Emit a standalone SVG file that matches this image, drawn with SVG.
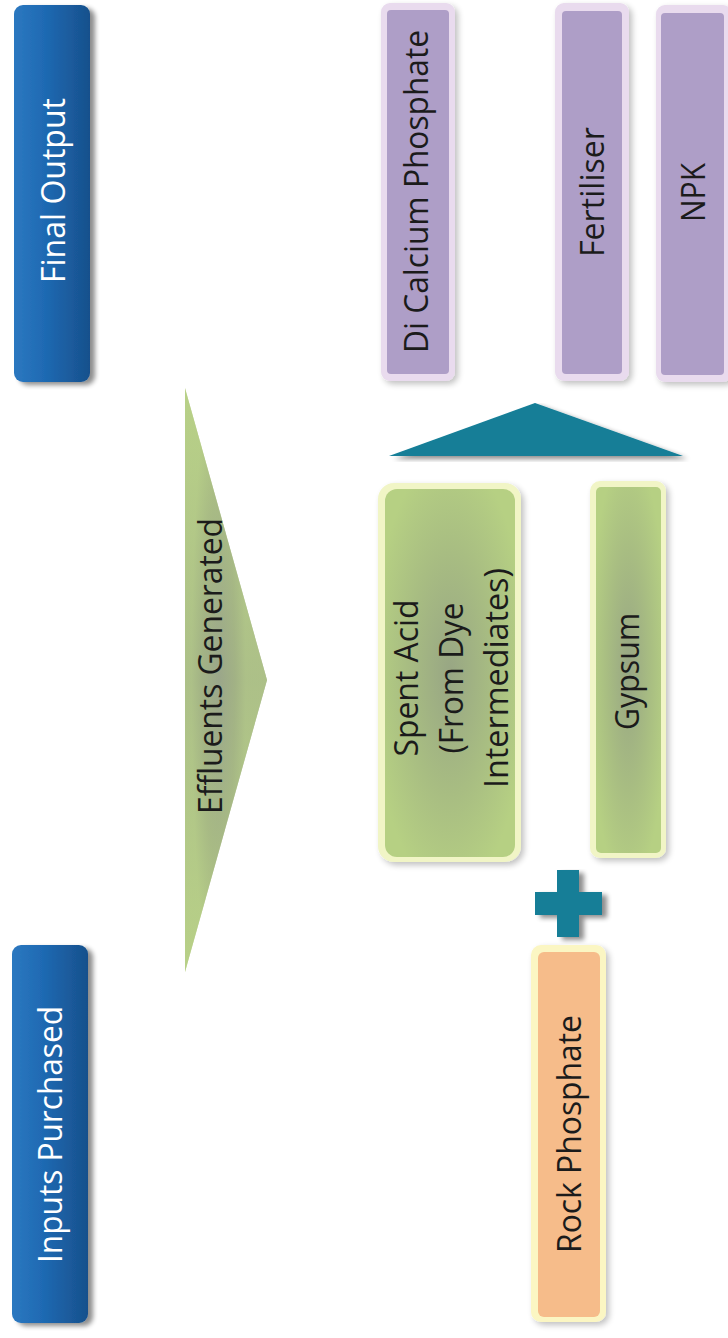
<svg xmlns="http://www.w3.org/2000/svg" width="728" height="1338" viewBox="0 0 728 1338">
<style>
  .t { font-family: "Open Sans", "Noto Sans", "Liberation Sans", sans-serif; font-size: 33px; text-anchor: middle; }
  .dark { fill: #1b1b1b; }
  .light { fill: #ffffff; }
  .purpleFrame { fill: #e9dbee; }
  .purple { fill: #ae9ec7; }
  .teal { fill: #137e97; }
</style>
<defs>
  <linearGradient id="blueGrad" x1="0" y1="0" x2="1" y2="0">
    <stop offset="0" stop-color="#2c78c0"/>
    <stop offset="0.4" stop-color="#1f6ab3"/>
    <stop offset="1" stop-color="#17508c"/>
  </linearGradient>
  <radialGradient id="greenGrad" cx="0.5" cy="0.5" r="0.6">
    <stop offset="0" stop-color="#98a684"/>
    <stop offset="0.55" stop-color="#a8bd82"/>
    <stop offset="1" stop-color="#b6d083"/>
  </radialGradient>
  <radialGradient id="effGrad" cx="0.35" cy="0.5" r="0.55" gradientTransform="translate(0.2,0) scale(0.6,1)">
    <stop offset="0" stop-color="#9aa68b"/>
    <stop offset="0.6" stop-color="#a6b982"/>
    <stop offset="1" stop-color="#b8d187"/>
  </radialGradient>
  <linearGradient id="effLin" x1="0" y1="0" x2="0" y2="1">
    <stop offset="0" stop-color="#b8d087"/>
    <stop offset="0.5" stop-color="#9ba689"/>
    <stop offset="1" stop-color="#b8d087"/>
  </linearGradient>
  <filter id="shadow" x="-20%" y="-5%" width="150%" height="115%">
    <feGaussianBlur in="SourceAlpha" stdDeviation="2.5"/>
    <feOffset dx="5" dy="3" result="b"/>
    <feComponentTransfer><feFuncA type="linear" slope="0.45"/></feComponentTransfer>
    <feMerge><feMergeNode/><feMergeNode in="SourceGraphic"/></feMerge>
  </filter>
  <filter id="softShadow" x="-20%" y="-10%" width="150%" height="130%">
    <feGaussianBlur in="SourceAlpha" stdDeviation="3"/>
    <feOffset dx="3" dy="3" result="b"/>
    <feComponentTransfer><feFuncA type="linear" slope="0.25"/></feComponentTransfer>
    <feMerge><feMergeNode/><feMergeNode in="SourceGraphic"/></feMerge>
  </filter>
  <filter id="glow" x="-20%" y="-10%" width="140%" height="120%">
    <feGaussianBlur stdDeviation="1.5"/>
  </filter>
</defs>

<rect width="728" height="1338" fill="#ffffff"/>

<!-- Header nodes -->
<g id="final-output">
  <rect x="14" y="5" width="76" height="377" rx="9" fill="url(#blueGrad)" filter="url(#shadow)"/>
  <text class="t light" transform="translate(65,190.5) rotate(-90)" textLength="185" lengthAdjust="spacingAndGlyphs">Final Output</text>
</g>

<g id="inputs-purchased">
  <rect x="12" y="945" width="76" height="378" rx="9" fill="url(#blueGrad)" filter="url(#shadow)"/>
  <text class="t light" transform="translate(62,1134.5) rotate(-90)" textLength="257" lengthAdjust="spacingAndGlyphs">Inputs Purchased</text>
</g>

<!-- Effluents generated chevron -->
<g id="effluents-generated">
  <polygon points="185,388 267,680 185,972" fill="url(#effLin)"/>
  <polygon points="185,388 267,680 185,972" fill="url(#effGrad)" opacity="0.6"/>
  <text class="t dark" transform="translate(222,666) rotate(-90)" textLength="296" lengthAdjust="spacingAndGlyphs">Effluents Generated</text>
</g>

<!-- Final outputs -->
<g id="di-calcium-phosphate">
  <rect x="381" y="3" width="74" height="378" rx="9" class="purpleFrame" filter="url(#softShadow)"/>
  <rect x="387" y="10" width="62" height="364" rx="4" class="purple"/>
  <text class="t dark" transform="translate(428,191.5) rotate(-90)" textLength="323" lengthAdjust="spacingAndGlyphs">Di Calcium Phosphate</text>
</g>

<g id="fertiliser">
  <rect x="555" y="3" width="74" height="378" rx="9" class="purpleFrame" filter="url(#softShadow)"/>
  <rect x="562" y="11" width="60" height="363" rx="4" class="purple"/>
  <text class="t dark" transform="translate(604,192) rotate(-90)" textLength="130" lengthAdjust="spacingAndGlyphs">Fertiliser</text>
</g>

<g id="npk">
  <rect x="656" y="5" width="76" height="377" rx="9" class="purpleFrame" filter="url(#softShadow)"/>
  <rect x="661" y="13" width="63" height="362" rx="4" class="purple"/>
  <text class="t dark" transform="translate(705,192.5) rotate(-90)" textLength="59" lengthAdjust="spacingAndGlyphs">NPK</text>
</g>

<!-- Effluents -->
<g id="spent-acid">
  <rect x="378" y="483" width="143" height="379" rx="16" fill="#f1f5c6" filter="url(#softShadow)"/>
  <rect x="385" y="489" width="130" height="368" rx="12" fill="url(#greenGrad)"/>
  <text class="t dark" transform="translate(418,678) rotate(-90)" textLength="157" lengthAdjust="spacingAndGlyphs">Spent Acid</text>
  <text class="t dark" transform="translate(463,678) rotate(-90)" textLength="151" lengthAdjust="spacingAndGlyphs">(From Dye</text>
  <text class="t dark" transform="translate(508,678) rotate(-90)" textLength="220" lengthAdjust="spacingAndGlyphs">Intermediates)</text>
</g>

<g id="gypsum">
  <rect x="590" y="481" width="76" height="377" rx="10" fill="#f1f5c6" filter="url(#softShadow)"/>
  <rect x="596" y="487" width="65" height="366" rx="5" fill="url(#greenGrad)"/>
  <text class="t dark" transform="translate(639,671.5) rotate(-90)" textLength="117" lengthAdjust="spacingAndGlyphs">Gypsum</text>
</g>

<!-- Input -->
<g id="rock-phosphate">
  <rect x="531" y="945" width="75" height="377" rx="10" fill="#fbf6c3" filter="url(#softShadow)"/>
  <rect x="538" y="952" width="62" height="365" rx="6" fill="#f6bc8a"/>
  <text class="t dark" transform="translate(581,1134) rotate(-90)" textLength="238" lengthAdjust="spacingAndGlyphs">Rock Phosphate</text>
</g>

<!-- Connecting symbols -->
<g id="connectors">
  <polygon class="teal" points="389,456 535,403 683,456" filter="url(#shadow)"/>
  <path class="teal" d="M557,870 H579 V892 H602 V915 H579 V937 H557 V915 H535 V892 H557 Z" filter="url(#shadow)"/>
</g>
</svg>
